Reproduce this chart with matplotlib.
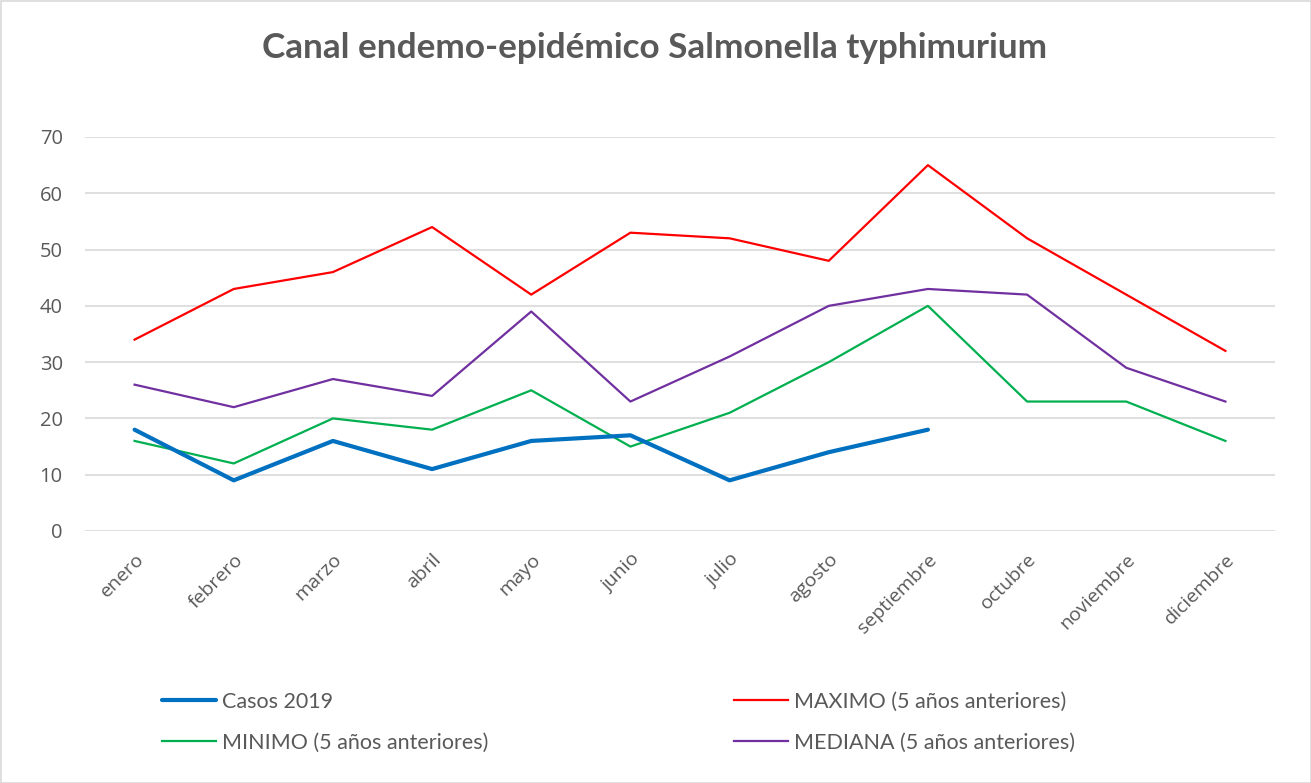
import matplotlib
matplotlib.use("Agg")
import matplotlib.pyplot as plt
from matplotlib.patches import Rectangle

plt.rcParams['font.family'] = ['Lato', 'DejaVu Sans']

months = ["enero", "febrero", "marzo", "abril", "mayo", "junio", "julio",
          "agosto", "septiembre", "octubre", "noviembre", "diciembre"]
casos_2019 = [18, 9, 16, 11, 16, 17, 9, 14, 18]
maximo = [34, 43, 46, 54, 42, 53, 52, 48, 65, 52, 42, 32]
minimo = [16, 12, 20, 18, 25, 15, 21, 30, 40, 23, 23, 16]
mediana = [26, 22, 27, 24, 39, 23, 31, 40, 43, 42, 29, 23]
yticks = [0, 10, 20, 30, 40, 50, 60, 70]

gray = "#595959"
fig = plt.figure(figsize=(13.11, 7.83), dpi=100)
ax = fig.add_axes([85/1311, 1-531/783, (1275-85)/1311, (531-137)/783])

x = list(range(len(months)))
l_casos, = ax.plot(x[:len(casos_2019)], casos_2019, color="#0070C0", lw=3.0,
                   solid_capstyle="round", label="Casos 2019", zorder=5)
l_max, = ax.plot(x, maximo, color="#FF0000", lw=1.6, label="MAXIMO (5 años anteriores)", zorder=4)
l_min, = ax.plot(x, minimo, color="#00B050", lw=1.6, label="MINIMO (5 años anteriores)", zorder=4)
l_med, = ax.plot(x, mediana, color="#7030A0", lw=1.6, label="MEDIANA (5 años anteriores)", zorder=4)

ax.set_xlim(-0.5, len(months) - 0.5)
ax.set_ylim(0, 70)
ax.set_yticks(yticks)
ax.set_xticks(x)
ax.set_xticklabels(months, rotation=45, ha="right", rotation_mode="anchor",
                   family=["Open Sans", "DejaVu Sans"], fontsize=14)
ax.set_yticklabels([str(v) for v in yticks], family=["Open Sans", "DejaVu Sans"], fontsize=14.5)
ax.tick_params(axis="both", length=0, labelcolor=gray)
ax.tick_params(axis="x", pad=14)
ax.tick_params(axis="y", pad=16)
ax.grid(axis="y", color="#D9D9D9", lw=1.2)
ax.set_axisbelow(True)
for s in ax.spines.values():
    s.set_visible(False)

fig.text(655/1311, 1-48/783, "Canal endemo-epidémico Salmonella typhimurium",
         ha="center", va="center", fontsize=25.3, fontweight="bold", color=gray)

leg_kw = dict(frameon=False, fontsize=15.5, handlelength=2.5, handletextpad=0.3,
              labelspacing=0.95, labelcolor=gray, borderaxespad=0, borderpad=0)
fig.legend([l_casos, l_min], [l_casos.get_label(), l_min.get_label()],
           loc="upper left", bbox_to_anchor=(162/1311, 1-692/783), **leg_kw)
fig.legend([l_max, l_med], [l_max.get_label(), l_med.get_label()],
           loc="upper left", bbox_to_anchor=(734/1311, 1-692/783), **leg_kw)

fig.patches.append(Rectangle((0.5/1311, 0.5/783), 1-1/1311, 1-1/783, transform=fig.transFigure,
                             fill=False, edgecolor="#D9D9D9", lw=1.2))

fig.savefig("out.png", dpi=100)
